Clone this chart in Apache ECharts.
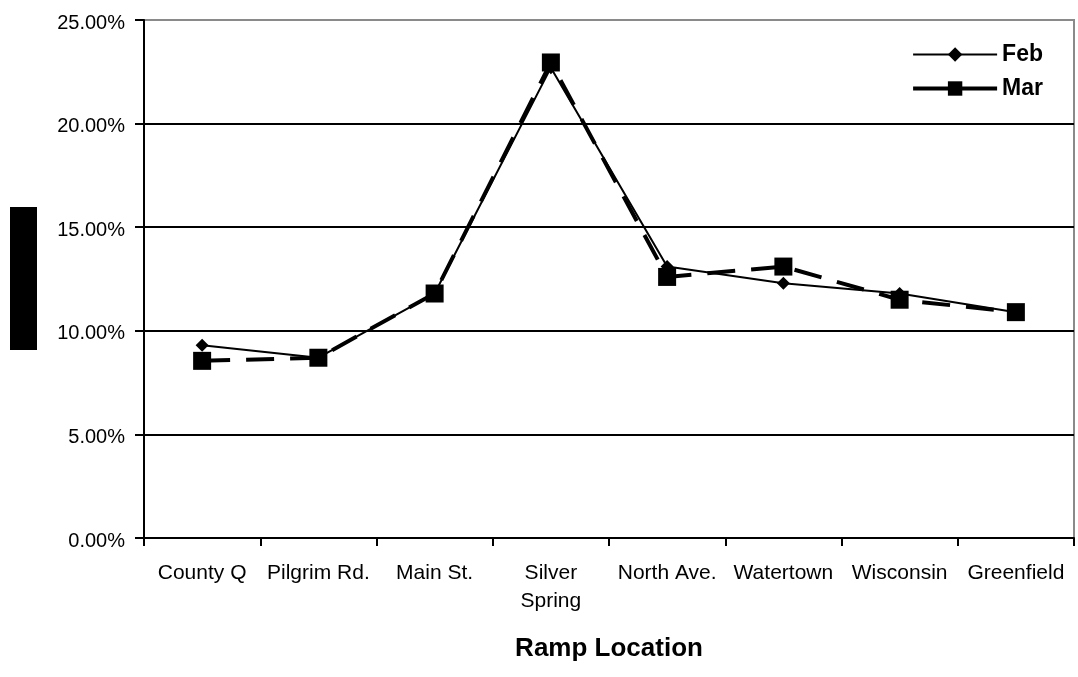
<!DOCTYPE html>
<html>
<head>
<meta charset="utf-8">
<script src="https://cdn.jsdelivr.net/npm/echarts@6/dist/echarts.min.js"></script>
<style>
  html, body { margin: 0; padding: 0; background: #fff; }
  #chart { width: 1078px; height: 677px; }
</style>
</head>
<body>
<div id="chart"></div>
<script>
// Ramp locations along the corridor
const categories = ['County Q', 'Pilgrim Rd.', 'Main St.', 'Silver Spring', 'North Ave.', 'Watertown', 'Wisconsin', 'Greenfield'];
// Share of volume per ramp, in percent
const febValues = [9.3, 8.7, 11.8, 22.7, 13.1, 12.3, 11.8, 10.9];
const marValues = [8.55, 8.7, 11.8, 22.95, 12.6, 13.1, 11.5, 10.9];
const yTicks = { min: 0, max: 25, interval: 5 };

const font = 'Liberation Sans, Arial, sans-serif';
const chart = echarts.init(document.getElementById('chart'));

chart.setOption({
  animation: false,
  backgroundColor: '#fff',
  grid: {
    left: 144, right: 4, top: 20, bottom: 139,
    show: true, borderColor: '#8a8a8a', borderWidth: 2
  },
  legend: {
    right: 30, top: 38,
    orient: 'vertical',
    itemWidth: 84, itemHeight: 18, itemGap: 11,
    textStyle: { fontFamily: font, fontSize: 23, fontWeight: 'bold', color: '#000' },
    data: [
      { name: 'Feb', lineStyle: { type: 'solid', width: 2 } },
      { name: 'Mar', lineStyle: { type: 'solid', width: 4 } }
    ]
  },
  xAxis: {
    type: 'category',
    data: categories,
    boundaryGap: true,
    name: 'Ramp Location',
    nameLocation: 'middle',
    nameGap: 98,
    nameTextStyle: { fontFamily: font, fontSize: 26, fontWeight: 'bold', color: '#000' },
    axisLine: { lineStyle: { color: '#000', width: 2 } },
    axisTick: { show: true, length: 8, lineStyle: { color: '#000', width: 2 } },
    axisLabel: {
      interval: 0, margin: 21, lineHeight: 28,
      fontFamily: font, fontSize: 21, color: '#000',
      formatter: v => v.replace('Silver ', 'Silver\n')
    }
  },
  yAxis: {
    type: 'value',
    min: yTicks.min, max: yTicks.max, interval: yTicks.interval,
    axisLine: { show: true, lineStyle: { color: '#000', width: 2 } },
    axisTick: { show: true, length: 9, lineStyle: { color: '#000', width: 2 } },
    axisLabel: {
      margin: 19, verticalAlign: 'top', lineHeight: 6,
      fontFamily: font, fontSize: 20, color: '#000',
      formatter: v => v.toFixed(2) + '%'
    },
    splitLine: { show: true, showMinLine: false, showMaxLine: false, lineStyle: { color: '#000', width: 2 } }
  },
  graphic: [
    { type: 'rect', left: 10, top: 207, shape: { width: 27, height: 143 }, style: { fill: '#000' } }
  ],
  series: [
    {
      name: 'Mar', type: 'line', data: marValues,
      symbol: 'rect', symbolSize: 18,
      itemStyle: { color: '#000' },
      lineStyle: { color: '#000', width: 4, type: [28, 16] },
      z: 2
    },
    {
      name: 'Feb', type: 'line', data: febValues,
      symbol: 'diamond', symbolSize: 13,
      itemStyle: { color: '#000' },
      lineStyle: { color: '#000', width: 2 },
      z: 3
    }
  ]
});
</script>
</body>
</html>
